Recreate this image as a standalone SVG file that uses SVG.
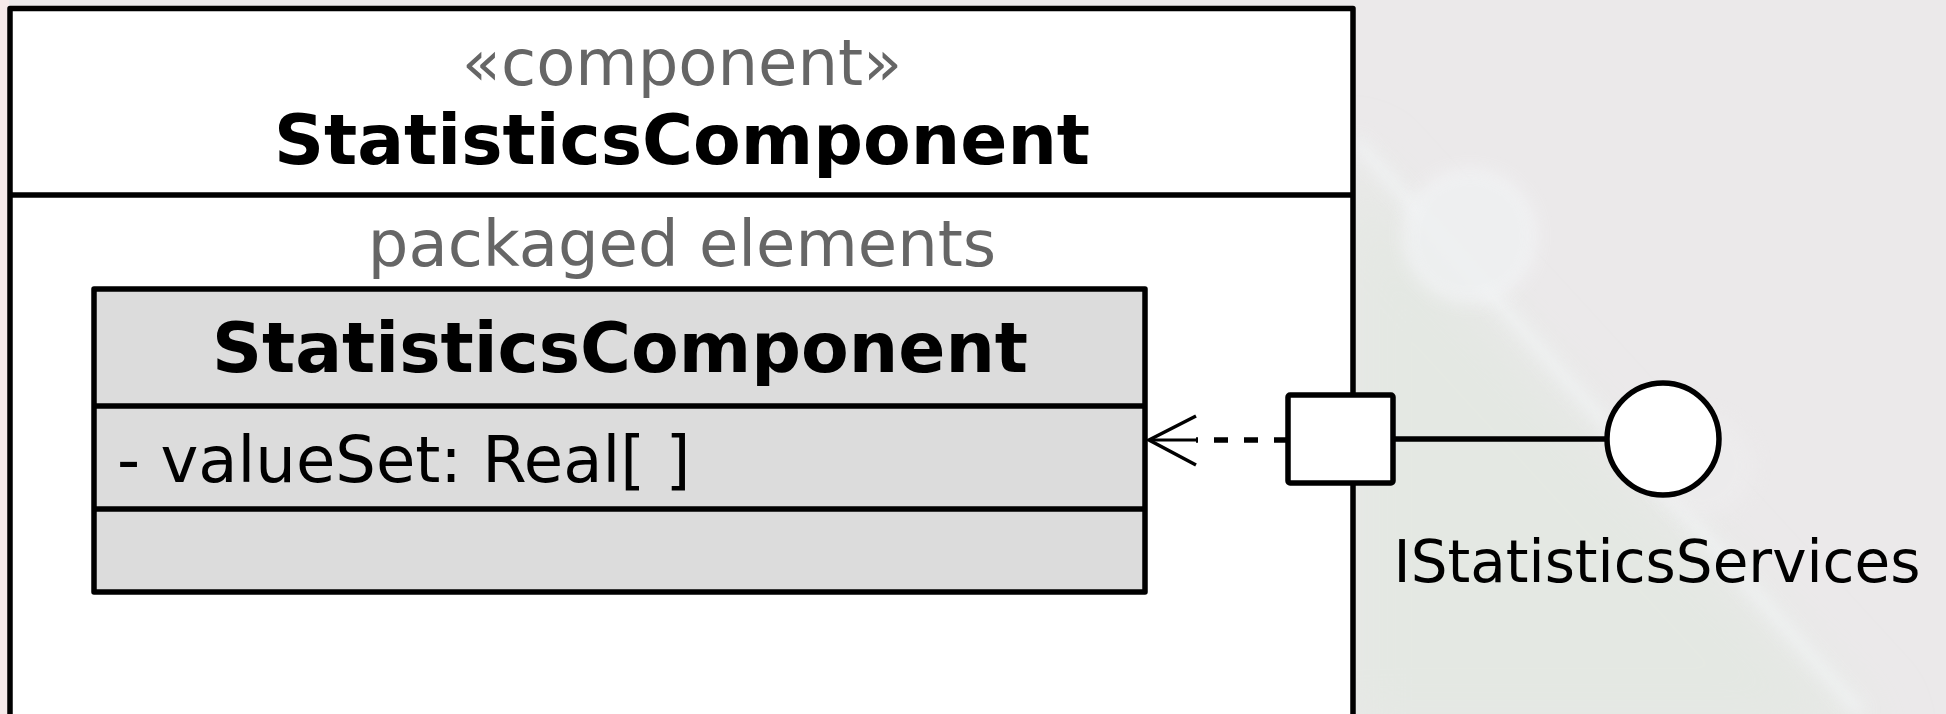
<svg xmlns="http://www.w3.org/2000/svg" width="1946" height="714" viewBox="0 0 1946 714">
  <style>
    text { font-family: "DejaVu Sans", "Noto Sans", sans-serif; }
    .stereo { font-size: 64px; fill: #666666; text-anchor: middle; }
    .name { font-size: 69.5px; font-weight: bold; fill: #000000; text-anchor: middle; }
    .attr { font-size: 64px; fill: #000000; }
    .label { font-size: 58px; fill: #000000; text-anchor: middle; }
    .box { stroke: #000000; stroke-width: 5.5; stroke-linejoin: round; }
    .line { stroke: #000000; stroke-width: 5.5; fill: none; }
  </style>
  <defs>
    <filter id="soft" x="-20%" y="-20%" width="140%" height="140%">
      <feGaussianBlur stdDeviation="8"/>
    </filter>
    <filter id="softer" x="-50%" y="-50%" width="200%" height="200%">
      <feGaussianBlur stdDeviation="30"/>
    </filter>
  </defs>

  <!-- background scene -->
  <g id="background">
    <rect x="0" y="0" width="1946" height="714" fill="#ebe9ea"/>
    <rect x="0" y="0" width="9" height="714" fill="#f6eaea"/>
    <polygon points="1340,150 1880,740 1340,740" fill="#e4e8e3" filter="url(#softer)"/>
    <line x1="1355" y1="140" x2="1862" y2="714" stroke="#f2f5f6" stroke-width="12" opacity="0.8" filter="url(#soft)"/>
    <circle cx="1470" cy="236" r="64" fill="#eff1f2" stroke="#f7f8fa" stroke-width="5" opacity="0.8" filter="url(#soft)"/>
    <circle cx="1702" cy="466" r="52" fill="#eeedee" opacity="0.6" filter="url(#soft)"/>
  </g>

  <!-- component node -->
  <g id="component-StatisticsComponent">
    <rect class="box" x="10" y="8.5" width="1343" height="720" fill="#ffffff"/>
    <line class="line" x1="10" y1="195" x2="1353" y2="195"/>
    <text class="stereo" x="682" y="85">«component»</text>
    <text class="name" x="682" y="164">StatisticsComponent</text>
    <text class="stereo" x="682" y="266">packaged elements</text>
  </g>

  <!-- class node -->
  <g id="class-StatisticsComponent">
    <rect class="box" x="94" y="289" width="1051" height="303" fill="#dcdcdc"/>
    <line class="line" x1="94" y1="406" x2="1145" y2="406"/>
    <line class="line" x1="94" y1="509" x2="1145" y2="509"/>
    <text class="name" x="620" y="372">StatisticsComponent</text>
    <text class="attr" x="117" y="482">- valueSet: Real[ ]</text>
  </g>

  <!-- port node -->
  <g id="port">
    <rect class="box" x="1288" y="395" width="105" height="88" rx="2" fill="#ffffff"/>
  </g>

  <!-- provided interface node -->
  <g id="interface-IStatisticsServices">
    <circle cx="1663" cy="439" r="56" fill="#ffffff" stroke="#000000" stroke-width="5.5"/>
    <text class="label" x="1657" y="582">IStatisticsServices</text>
  </g>

  <!-- connectors -->
  <g id="connectors">
    <line x1="1288" y1="440" x2="1196" y2="440" stroke="#000000" stroke-width="5.5" stroke-dasharray="14 16"/>
    <line x1="1149" y1="440" x2="1196" y2="440" stroke="#000000" stroke-width="3"/>
    <polyline points="1196,416 1149,440 1196,465" fill="none" stroke="#000000" stroke-width="3.5"/>
    <line class="line" x1="1393" y1="439" x2="1607" y2="439"/>
  </g>
</svg>
